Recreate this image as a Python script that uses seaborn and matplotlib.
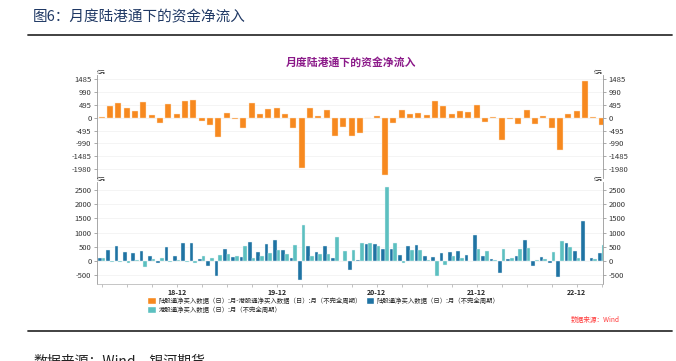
import seaborn as sns
import matplotlib.pyplot as plt
from matplotlib.patches import Patch
from matplotlib.lines import Line2D
import pandas as pd

# monthly data, 2018-03 .. 2023-03 (亿元)
months = [p.strftime("%y-%m") for p in pd.period_range("2018-03", "2023-03", freq="M")]
net_flow = [10, 450, 553, 373, 270, 604, 116, -193, 527, 129,
            643, 694, -116, -283, -733, 180, -51, -386, 566, 141,
            347, 373, 141, -411, -1942, 360, 64, 296, -720, -360,
            -694, -604, -26, 64, -2200, -219, 309, 154, 193, 103,
            643, 437, 154, 257, 231, 489, -180, 20, -849, -39,
            -231, 296, -231, 64, -411, -1260, 141, 270, 1415, 20, -283]
north_flow = [90, 390, 520, 290, 285, 360, 165, -100, 480, 160,
              610, 620, 50, -180, -535, 430, 120, 140, 650, 320,
              600, 730, 390, 110, -680, 530, 300, 530, 100, -20,
              -330, 10, 590, 580, 400, 415, 200, 530, 560, 150,
              120, 270, 310, 340, 200, 900, 170, 50, -450, 60,
              170, 740, -200, 130, -100, -570, 610, 360, 1420, 90, 260]
south_flow = [80, -60, -35, -85, 15, -240, 50, 90, -45, 30,
              -35, -70, 170, 105, 200, 250, 170, 530, 90, 170,
              260, 380, 240, 550, 1270, 160, 240, 240, 830, 340,
              370, 610, 615, 510, 2600, 628, -100, 370, 370, 30,
              -530, -165, 155, 90, -30, 410, 355, 35, 400, 90,
              400, 450, 20, 70, 310, 690, 470, 90, 5, 70, 550]

top_ticks = [-1980, -1485, -990, -495, 0, 495, 990, 1485]
bottom_ticks = [-500, 0, 500, 1000, 1500, 2000, 2500]
x_labels = ["18-12", "19-12", "20-12", "21-12", "22-12"]

label_net = "陆股通净买入数据（日）:月-港股通净买入数据（日）:月（不完全周期）"
label_north = "陆股通净买入数据（日）:月（不完全周期）"
label_south = "港股通净买入数据（日）:月（不完全周期）"

orange = "#F7891F"
dark_blue = "#1F73A3"
light_teal = "#5CC0C0"

sns.set_style("white")
plt.rcParams['font.family'] = ['Noto Sans CJK SC', 'DejaVu Sans']

fig = plt.figure(figsize=(6.76, 3.61), dpi=100)
W, H = 676, 361


def box(x0, y0, x1, y1):
    return [x0 / W, 1 - y1 / H, (x1 - x0) / W, (y1 - y0) / H]


ax1 = fig.add_axes(box(97, 75, 603, 178))
ax2 = fig.add_axes(box(97, 182, 603, 284))

df_top = pd.DataFrame({"month": months, "value": net_flow})
sns.barplot(data=df_top, x="month", y="value", order=months, color=orange,
            saturation=1, width=0.72, edgecolor="#fde6cc", linewidth=0.3, ax=ax1)

df_bot = pd.concat([
    pd.DataFrame({"month": months, "value": north_flow, "series": label_north}),
    pd.DataFrame({"month": months, "value": south_flow, "series": label_south}),
])
sns.barplot(data=df_bot, x="month", y="value", hue="series", order=months,
            hue_order=[label_north, label_south], palette=[dark_blue, light_teal],
            saturation=1, width=0.9, edgecolor="#e8f4f8", linewidth=0.3,
            legend=False, ax=ax2)

for ax, ticks, lim in [(ax1, top_ticks, (-2330, 1650)), (ax2, bottom_ticks, (-830, 2795))]:
    ax.set_xlim(-0.56, len(months) - 1 + 0.16)
    ax.set_ylim(*lim)
    ax.set_yticks(ticks)
    ax.set_yticklabels([str(t) for t in ticks])
    ax.yaxis.grid(True, color="#f2f2f2", linewidth=0.6)
    ax.set_axisbelow(True)
    ax.set_xlabel("")
    ax.set_ylabel("")
    ax.tick_params(axis="y", labelsize=5.5, labelcolor="#333333", left=True, right=True,
                   labelleft=True, labelright=True, length=2.5, width=0.5, color="#888888", pad=1.5)
    for side in ["left", "right"]:
        ax.spines[side].set_color("#999999")
        ax.spines[side].set_linewidth(0.6)
    ax.spines["top"].set_visible(False)
    ax.text(0.0, 1.0, "亿元", transform=ax.transAxes, fontsize=3.2, color="#333333",
            ha="left", va="bottom")
    ax.text(1.0, 1.0, "亿元", transform=ax.transAxes, fontsize=3.2, color="#333333",
            ha="right", va="bottom")

ax1.spines["bottom"].set_visible(False)
ax1.set_xticks([])

ax2.spines["bottom"].set_color("#bbbbbb")
ax2.spines["bottom"].set_linewidth(0.6)
major_pos = [months.index("18-12"), months.index("19-12"), months.index("20-12"),
             months.index("21-12"), months.index("22-12")]
ax2.set_xticks(major_pos)
ax2.set_xticklabels(x_labels, fontsize=5, fontweight="bold", color="#222222")
ax2.set_xticks([i for i in range(0, len(months), 3) if i not in major_pos], minor=True)
ax2.tick_params(axis="x", which="both", bottom=True, length=2, width=0.5,
                color="#aaaaaa", pad=1.5)

# titles and frame
fig.text(33 / W, 1 - 17 / H, "图6：月度陆港通下的资金净流入", fontsize=10.5,
         color="#1F3864", ha="left", va="center")
fig.add_artist(Line2D([28 / W, 672 / W], [1 - 35 / H] * 2, color="#333333", linewidth=1.3))
fig.text(351 / W, 1 - 62 / H, "月度陆港通下的资金净流入", fontsize=7.8,
         fontweight="bold", color="#8B1A89", ha="center", va="center")

handles = [Patch(facecolor=orange), Patch(facecolor=light_teal), Patch(facecolor=dark_blue)]
fig.legend(handles, [label_net, label_south, label_north], ncol=2, loc="upper left",
           bbox_to_anchor=(143 / W, 1 - 292 / H), frameon=False, fontsize=4.6,
           handlelength=1.4, handleheight=1.3, handletextpad=0.3, columnspacing=0.6,
           labelspacing=0.25, borderpad=0.2)

fig.text(620 / W, 1 - 320 / H, "数据来源：Wind", fontsize=4.8, color="#FF3B3B",
         style="italic", ha="right", va="center")
fig.add_artist(Line2D([28 / W, 672 / W], [1 - 331 / H] * 2, color="#333333", linewidth=1.3))
fig.text(33 / W, 1 - 354 / H, "数据来源：Wind，银河期货", fontsize=10,
         color="#222222", ha="left", va="top")

fig.savefig("out.png", dpi=100)
